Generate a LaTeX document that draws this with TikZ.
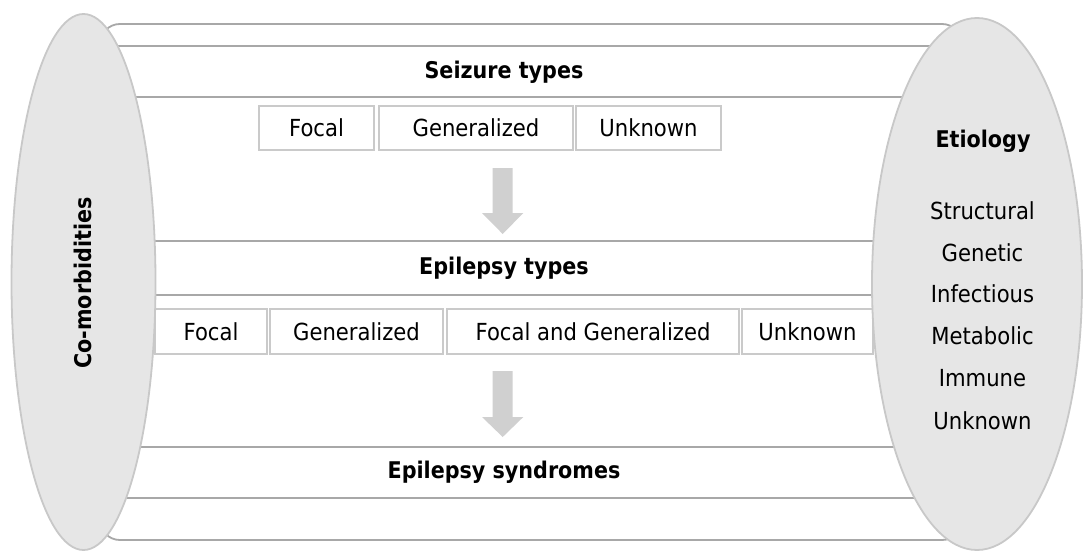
\documentclass[tikz,border=0pt]{standalone}
\usepackage{fontspec}
\setmainfont{DejaVu Sans}[FakeStretch=0.9]
\usetikzlibrary{shapes.geometric}
\definecolor{bandline}{HTML}{A8A8A8}
\definecolor{boxline}{HTML}{CACACA}
\definecolor{ellfill}{HTML}{E6E6E6}
\definecolor{elldraw}{HTML}{C8C8C8}
\definecolor{arrowfill}{HTML}{D0D0D0}
\tikzset{
  txt/.style={font=\fontsize{23.5}{28}\selectfont, inner sep=0pt},
  title/.style={txt, font=\fontsize{23}{28}\selectfont\bfseries},
  cell/.style={txt, draw=boxline, line width=1.6pt, fill=white, minimum height=#1},
  band/.style={draw=bandline, line width=1.8pt},
  blockarrow/.style={fill=arrowfill, draw=none},
  oval/.style={ellipse, fill=ellfill, draw=elldraw, line width=1.8pt, inner sep=0pt}
}
\begin{document}
\begin{tikzpicture}[x=1pt,y=-1pt]
\useasboundingbox (0,0) rectangle (1084,551);
% outer frame
\draw[band, rounded corners=20pt] (100,24) rectangle (962,540);
% band lines
\foreach \yy in {46,97,241,295,447,498}
  \draw[band] (100,\yy) -- (962,\yy);
% titles
\node[title] (seiz) at (504,72) {Seizure types};
\node[title] (etype) at (504,268) {Epilepsy types};
\node[title] (esyn) at (504,472.5) {Epilepsy syndromes};
% row 1 boxes
\node[cell=44pt, minimum width=115pt] (sf) at (316.5,128) {Focal};
\node[cell=44pt, minimum width=194pt] (sg) at (476,128) {Generalized};
\node[cell=44pt, minimum width=145pt] (su) at (648.5,128) {Unknown};
% row 2 boxes
\node[cell=45pt, minimum width=112pt] (ef) at (211,331.5) {Focal};
\node[cell=45pt, minimum width=173pt] (eg) at (356.5,331.5) {Generalized};
\node[cell=45pt, minimum width=292pt] (efg) at (593,331.5) {Focal and Generalized};
\node[cell=45pt, minimum width=131pt] (eu) at (807.5,331.5) {Unknown};
% block arrows
\fill[blockarrow] (492.7,168) -- (512.7,168) -- (512.7,213) -- (523.3,213) -- (502.7,234) -- (482,213) -- (492.7,213) -- cycle;
\fill[blockarrow] (492.7,371) -- (512.7,371) -- (512.7,417) -- (523.3,417) -- (502.7,437) -- (482,417) -- (492.7,417) -- cycle;
% side ovals
\node[oval, minimum width=144pt, minimum height=536pt] (como) at (83.5,282) {};
\node[title, rotate=90] (comot) at (83,283) {Co-morbidities};
\node[oval, minimum width=210pt, minimum height=532pt] (etio) at (977,284) {};
\node[title] (etiot) at (983,141) {Etiology};
\node[txt] (e1) at (982.5,211) {Structural};
\node[txt] (e2) at (982.5,252.5) {Genetic};
\node[txt] (e3) at (982.5,294) {Infectious};
\node[txt] (e4) at (982.5,336) {Metabolic};
\node[txt] (e5) at (982.5,378) {Immune};
\node[txt] (e6) at (982.5,421) {Unknown};
\end{tikzpicture}
\end{document}
